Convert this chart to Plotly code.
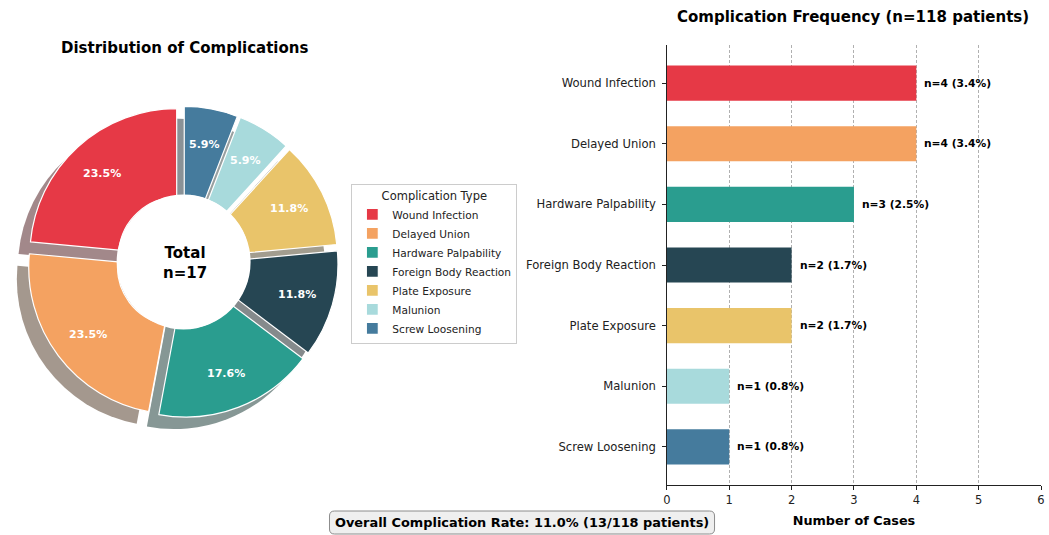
import math
import plotly.graph_objects as go

# ---- data ----
categories = ["Wound Infection", "Delayed Union", "Hardware Palpability",
              "Foreign Body Reaction", "Plate Exposure", "Malunion", "Screw Loosening"]
cases = [4, 4, 3, 2, 2, 1, 1]
total_patients = 118
patients_with_complication = 13
x_tick_values = [0, 1, 2, 3, 4, 5, 6]

# ---- style ----
colors = ["#e63946", "#f4a261", "#2a9d8f", "#264653", "#e9c46a", "#a8dadc", "#457b9d"]
FONT = "DejaVu Sans"
W, H = 1049, 535


def px_x(x):
    return x / W


def px_y(y):
    return 1 - y / H


def shade(hex_color):
    # darkened, half-transparent shadow tone flattened onto white
    r, g, b = (int(hex_color[i:i + 2], 16) for i in (1, 3, 5))
    return "rgb({},{},{})".format(*(round(0.15 * c + 127.5) for c in (r, g, b)))


total_cases = sum(cases)
# plotly puts the first counterclockwise slice just right of 12 o'clock;
# turn the donut so the first slice starts at 12 o'clock and runs to the left
start_rotation = -360 * cases[0] / total_cases
pull = 0.06
# donut geometry (pixels)
cx, cy, R = 180, 262, 148
half = R * (1 + pull)
shadow_off = 12
label_dist = 0.75  # percentage labels, as a fraction of the radius

fig = go.Figure()

# shadow of the donut
fig.add_trace(go.Pie(
    labels=categories, values=cases, sort=False, direction="counterclockwise",
    rotation=start_rotation, pull=pull,
    marker=dict(colors=[shade(c) for c in colors]),
    textinfo="none", hoverinfo="skip", showlegend=False,
    domain=dict(x=[px_x(cx - shadow_off - half), px_x(cx - shadow_off + half)],
                y=[px_y(cy + shadow_off + half), px_y(cy + shadow_off - half)]),
))

# donut
fig.add_trace(go.Pie(
    labels=categories, values=cases, sort=False, direction="counterclockwise",
    rotation=start_rotation, pull=pull, hole=0.395,
    marker=dict(colors=colors, line=dict(color="white", width=1.2)),
    textinfo="none",
    domain=dict(x=[px_x(cx - half), px_x(cx + half)],
                y=[px_y(cy + half), px_y(cy - half)]),
))

# horizontal bars
fig.add_trace(go.Bar(
    x=cases, y=categories, orientation="h", width=0.58,
    marker=dict(color=colors, line=dict(width=0)),
    showlegend=False, xaxis="x", yaxis="y",
))

hole_r = 67.5
shapes = [
    dict(type="circle", xref="paper", yref="paper", layer="above",
         x0=px_x(cx + 1 - hole_r), x1=px_x(cx + 1 + hole_r),
         y0=px_y(cy + hole_r), y1=px_y(cy - hole_r),
         fillcolor="white", line=dict(width=0)),
]

# rounded box behind the summary text
bx0, bx1, by0, by1, rr = 328, 716, 511, 534, 5
path = (f"M {px_x(bx0 + rr)} {px_y(by0)} L {px_x(bx1 - rr)} {px_y(by0)} "
        f"Q {px_x(bx1)} {px_y(by0)} {px_x(bx1)} {px_y(by0 + rr)} "
        f"L {px_x(bx1)} {px_y(by1 - rr)} Q {px_x(bx1)} {px_y(by1)} {px_x(bx1 - rr)} {px_y(by1)} "
        f"L {px_x(bx0 + rr)} {px_y(by1)} Q {px_x(bx0)} {px_y(by1)} {px_x(bx0)} {px_y(by1 - rr)} "
        f"L {px_x(bx0)} {px_y(by0 + rr)} Q {px_x(bx0)} {px_y(by0)} {px_x(bx0 + rr)} {px_y(by0)} Z")
shapes.append(dict(type="path", path=path, xref="paper", yref="paper", layer="above",
                   fillcolor="#efefef", line=dict(color="#8c8c8c", width=1)))

annotations = [
    dict(text="<b>Distribution of Complications</b>", x=px_x(182), y=px_y(48),
         xref="paper", yref="paper", showarrow=False, xanchor="center", yanchor="middle",
         font=dict(family=FONT, size=15, color="black")),
    dict(text="<b>Complication Frequency (n=%d patients)</b>" % total_patients,
         x=px_x(856), y=px_y(17), xref="paper", yref="paper", showarrow=False,
         xanchor="center", yanchor="middle", font=dict(family=FONT, size=15, color="black")),
    dict(text="<b>Total<br>n=%d</b>" % total_cases, x=px_x(cx + 2), y=px_y(cy + 1),
         xref="paper", yref="paper", showarrow=False, xanchor="center", yanchor="middle",
         font=dict(family=FONT, size=15, color="black")),
    dict(text="<b>Overall Complication Rate: %.1f%% (%d/%d patients)</b>"
              % (100 * patients_with_complication / total_patients,
                 patients_with_complication, total_patients),
         x=px_x((bx0 + bx1) / 2), y=px_y((by0 + by1) / 2), xref="paper", yref="paper",
         showarrow=False, xanchor="center", yanchor="middle",
         font=dict(family=FONT, size=12.9, color="black")),
]

# percentage labels in the middle of each (pulled-out) slice
cum = 0
for v in cases:
    mid = math.radians(90 + 360 * (cum + v / 2) / total_cases)
    dist = label_dist * R + pull * R
    annotations.append(dict(
        text="<b>%.1f%%</b>" % (100 * v / total_cases),
        x=px_x(cx + dist * math.cos(mid)), y=px_y(cy - dist * math.sin(mid)),
        xref="paper", yref="paper", showarrow=False, xanchor="center", yanchor="middle",
        font=dict(family=FONT, size=11, color="white")))
    cum += v

# value labels at the end of each bar
for cat, v in zip(categories, cases):
    annotations.append(dict(
        text="<b>n=%d (%.1f%%)</b>" % (v, 100 * v / total_patients),
        x=v, y=cat, xref="x", yref="y", xshift=6, showarrow=False,
        xanchor="left", yanchor="middle", font=dict(family=FONT, size=10.7, color="black")))

fig.update_layout(
    width=W, height=H,
    margin=dict(l=0, r=0, t=0, b=0),
    paper_bgcolor="white", plot_bgcolor="white",
    font=dict(family=FONT, size=11, color="#222222"),
    xaxis=dict(domain=[px_x(668), px_x(1045)], range=[0, 6], tickvals=x_tick_values,
               showgrid=True, griddash="3px,2px", gridcolor="#b0b0b0", gridwidth=0.8,
               zeroline=False, showline=True, linecolor="#222222", linewidth=1,
               ticks="outside", ticklen=4, tickcolor="#222222",
               tickfont=dict(size=11.5, color="#222222"),
               title=dict(text="<b>Number of Cases</b>", standoff=10,
                          font=dict(size=12.8, color="black"))),
    yaxis=dict(domain=[px_y(485), px_y(45)], categoryorder="array",
               categoryarray=categories, range=[6.63, -0.63],
               showgrid=False, zeroline=False, showline=True, linecolor="#222222",
               linewidth=1, ticks="outside", ticklen=4, tickcolor="#222222",
               tickfont=dict(size=11.6, color="#222222"), ticksuffix=" "),
    legend=dict(x=px_x(350), y=px_y(184), xanchor="left", yanchor="top",
                bordercolor="#cccccc", borderwidth=1, bgcolor="white",
                font=dict(family=FONT, size=10.6, color="#222222"),
                title=dict(text="Complication Type", side="top center",
                           font=dict(family=FONT, size=11.5, color="#222222")),
                tracegroupgap=0),
    shapes=shapes,
    annotations=annotations,
)

fig.write_html("out.html")
